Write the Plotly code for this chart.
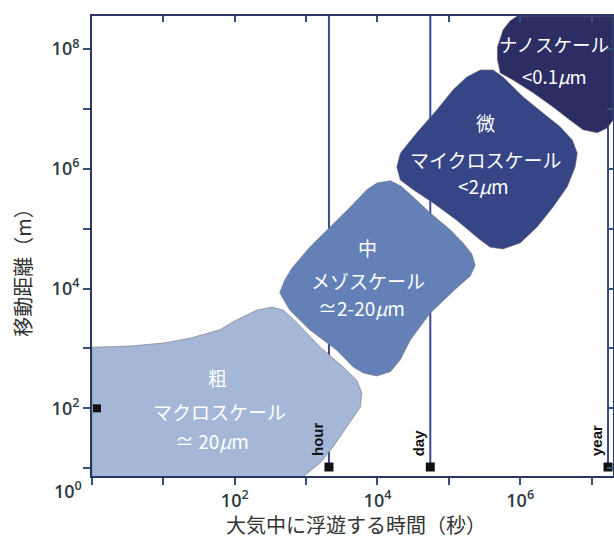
import plotly.graph_objects as go

# ---------------- data (log10 values) ----------------
# axis ticks: log10 of seconds / metres
x_tick_exp = [0, 1, 2, 3, 4, 5, 6, 7]
x_tick_text = ["", "", "10<sup>2</sup>", "", "10<sup>4</sup>", "", "10<sup>6</sup>", ""]
y_tick_exp = [1, 2, 3, 4, 5, 6, 7, 8]
y_tick_text = ["", "10<sup>2</sup>", "", "10<sup>4</sup>", "", "10<sup>6</sup>", "", "10<sup>8</sup>"]

# region outlines: log10(time s), log10(distance m)
macro_x = [0.0, 0.0, 0.53, 1.0, 1.37, 1.79, 2.03, 2.31, 2.52, 2.68, 2.87, 3.2, 3.52, 3.71,
           3.78, 3.76, 3.57, 3.38, 3.2, 3.01, 2.97]
macro_y = [0.87, 3.02, 3.04, 3.09, 3.17, 3.31, 3.48, 3.64, 3.69, 3.64, 3.43, 3.02, 2.69, 2.47,
           2.26, 2.02, 1.69, 1.36, 1.09, 0.92, 0.87]

meso_x = [2.63, 2.70, 2.80, 3.05, 3.34, 3.62, 3.85, 3.99, 4.18, 4.33, 4.50, 4.74, 5.02, 5.20,
          5.32, 5.37, 5.30, 5.11, 4.74, 4.46, 4.32, 4.18, 3.99, 3.80, 3.66, 3.43, 3.05, 2.77, 2.63]
meso_y = [3.93, 4.14, 4.34, 4.69, 5.03, 5.36, 5.65, 5.76, 5.80, 5.71, 5.53, 5.26, 4.98, 4.76,
          4.58, 4.39, 4.21, 4.01, 3.59, 3.14, 2.81, 2.61, 2.54, 2.59, 2.69, 2.97, 3.31, 3.64, 3.93]

micro_x = [4.27, 4.32, 4.55, 4.83, 5.06, 5.25, 5.44, 5.62, 5.76, 6.04, 6.32, 6.56, 6.73, 6.80,
           6.77, 6.66, 6.46, 6.24, 6.00, 5.76, 5.58, 5.44, 5.11, 4.78, 4.50, 4.32, 4.27]
micro_y = [6.03, 6.26, 6.60, 6.98, 7.32, 7.53, 7.65, 7.65, 7.53, 7.20, 6.93, 6.70, 6.48, 6.26,
           6.03, 5.70, 5.36, 5.03, 4.76, 4.66, 4.69, 4.81, 5.14, 5.43, 5.65, 5.81, 6.03]

nano_x = [5.96, 7.3, 7.3, 7.22, 7.08, 6.88, 6.70, 6.46, 6.18, 5.90, 5.72, 5.68, 5.68, 5.76, 5.86, 5.96]
nano_y = [8.55, 8.55, 6.81, 6.68, 6.60, 6.65, 6.81, 7.03, 7.27, 7.48, 7.60, 7.82, 8.03, 8.32, 8.47, 8.55]

# time markers (log10 s)
event_names = ["hour", "day", "year"]
event_exp = [3.32, 4.74, 7.23]

# region labels
region_titles = ["粗", "中", "微", ""]
region_names = ["マクロスケール", "メゾスケール", "マイクロスケール", "ナノスケール"]
region_sizes = ["≃ 20<i>μ</i>m", "≃2-20<i>μ</i>m", "<2<i>μ</i>m", "<0.1<i>μ</i>m"]

# ---------------- styling ----------------
X_RANGE = [0, 7.3]
Y_RANGE = [0.87, 8.55]
AXIS_COLOR = "#2b3562"
TICK_COLOR = "#35507a"
LINE_COLOR = "#3a4a8c"
fills = ["#a4b7d7", "#6381b7", "#354586", "#2c2e63"]
edge = "rgba(120,105,110,0.55)"

fig = go.Figure()

# vertical event lines (beneath regions)
for e in event_exp:
    fig.add_trace(go.Scatter(x=[10 ** e, 10 ** e], y=[10 ** Y_RANGE[1], 10 ** 1.04],
                             mode="lines", line=dict(color=LINE_COLOR, width=2),
                             hoverinfo="skip", showlegend=False))

regions = [(macro_x, macro_y), (meso_x, meso_y), (micro_x, micro_y), (nano_x, nano_y)]
for (xs, ys), c in zip(regions, fills):
    fig.add_trace(go.Scatter(x=[10 ** v for v in xs], y=[10 ** v for v in ys],
                             mode="lines", fill="toself", fillcolor=c,
                             line=dict(color=edge, width=1),
                             hoverinfo="skip", showlegend=False))

# black square markers
fig.add_trace(go.Scatter(x=[10 ** e for e in event_exp], y=[10 ** 1.02] * len(event_exp),
                         mode="markers", marker=dict(symbol="square", size=9, color="#111"),
                         cliponaxis=False, hoverinfo="skip", showlegend=False))
fig.add_trace(go.Scatter(x=[10 ** 0.07], y=[10 ** 2.0],
                         mode="markers", marker=dict(symbol="square", size=8, color="#111"),
                         cliponaxis=False, hoverinfo="skip", showlegend=False))

# invisible trace for the mirrored axes
fig.add_trace(go.Scatter(x=[1], y=[1], xaxis="x2", yaxis="y2", mode="markers",
                         marker=dict(opacity=0), hoverinfo="skip", showlegend=False))

annotations = []
# region label positions (log10 coords)
label_pos = [
    [(1.765, 2.51), (1.79, 1.94), (1.68, 1.455)],
    [(3.867, 4.69), (3.867, 4.14), (3.78, 3.675)],
    [(5.51, 6.78), (5.52, 6.146), (5.48, 5.712)],
    [None, (6.473, 8.083), (6.487, 7.548)],
]
jp = "Noto Sans CJK JP"
for i in range(4):
    texts = [region_titles[i], region_names[i], region_sizes[i]]
    for t, p in zip(texts, label_pos[i]):
        if not t or p is None:
            continue
        annotations.append(dict(x=p[0], y=p[1], xref="x", yref="y", text=t, showarrow=False,
                                font=dict(family=jp, size=19 if i < 3 else 18.5, color="white"),
                                xanchor="center", yanchor="middle"))

# event labels
for name, e in zip(event_names, event_exp):
    annotations.append(dict(x=e, y=1.17, xref="x", yref="y", text=name, showarrow=False,
                            textangle=-90, xanchor="right", yanchor="bottom", xshift=-1,
                            font=dict(family="Liberation Sans", size=15, color="#111", weight="bold")))

tickfont = dict(family="Open Sans", size=18, color="#2f3a44", weight=600)

# corner 10^0 label
annotations.append(dict(x=-0.046, y=-0.03, xref="paper", yref="paper", text="10<sup>0</sup>",
                        showarrow=False, xanchor="center", yanchor="middle", font=tickfont))
# axis titles
annotations.append(dict(x=0.507, y=-0.105, xref="paper", yref="paper",
                        text="大気中に浮遊する時間（秒）", showarrow=False,
                        xanchor="center", yanchor="middle",
                        font=dict(family=jp, size=20, color="#333")))
annotations.append(dict(x=-0.135, y=0.454, xref="paper", yref="paper",
                        text="移動距離（m）", showarrow=False, textangle=-90,
                        xanchor="center", yanchor="middle",
                        font=dict(family=jp, size=20, color="#333")))

fig.update_layout(
    width=614, height=540, autosize=False,
    margin=dict(l=92, r=1, t=16, b=64, autoexpand=False),
    paper_bgcolor="white", plot_bgcolor="white",
    showlegend=False,
    annotations=annotations,
    xaxis=dict(type="log", range=X_RANGE, tickvals=[10 ** v for v in x_tick_exp],
               ticktext=x_tick_text, ticks="outside", ticklen=7, tickwidth=1.5,
               tickcolor=TICK_COLOR, showline=True, linecolor=AXIS_COLOR, linewidth=2,
               showgrid=False, zeroline=False, tickfont=tickfont, automargin=False),
    yaxis=dict(type="log", range=Y_RANGE, tickvals=[10 ** v for v in y_tick_exp],
               ticktext=y_tick_text, ticks="outside", ticklen=7, tickwidth=1.5,
               tickcolor=TICK_COLOR, showline=True, linecolor=AXIS_COLOR, linewidth=2,
               showgrid=False, zeroline=False, tickfont=tickfont, automargin=False),
    xaxis2=dict(type="log", range=X_RANGE, overlaying="x", side="top",
                tickvals=[10 ** v for v in x_tick_exp], ticks="inside", ticklen=6,
                tickwidth=1.5, tickcolor=TICK_COLOR, showticklabels=False,
                showline=True, linecolor=AXIS_COLOR, linewidth=2, showgrid=False,
                zeroline=False, automargin=False),
    yaxis2=dict(type="log", range=Y_RANGE, overlaying="y", side="right",
                tickvals=[10 ** v for v in y_tick_exp], ticks="inside", ticklen=6,
                tickwidth=1.5, tickcolor=TICK_COLOR, showticklabels=False,
                showline=True, linecolor=AXIS_COLOR, linewidth=2, showgrid=False,
                zeroline=False, automargin=False),
)

fig.write_html("out.html", config={"displayModeBar": False},
               post_script="document.body.style.margin='0';document.body.style.padding='0';")
